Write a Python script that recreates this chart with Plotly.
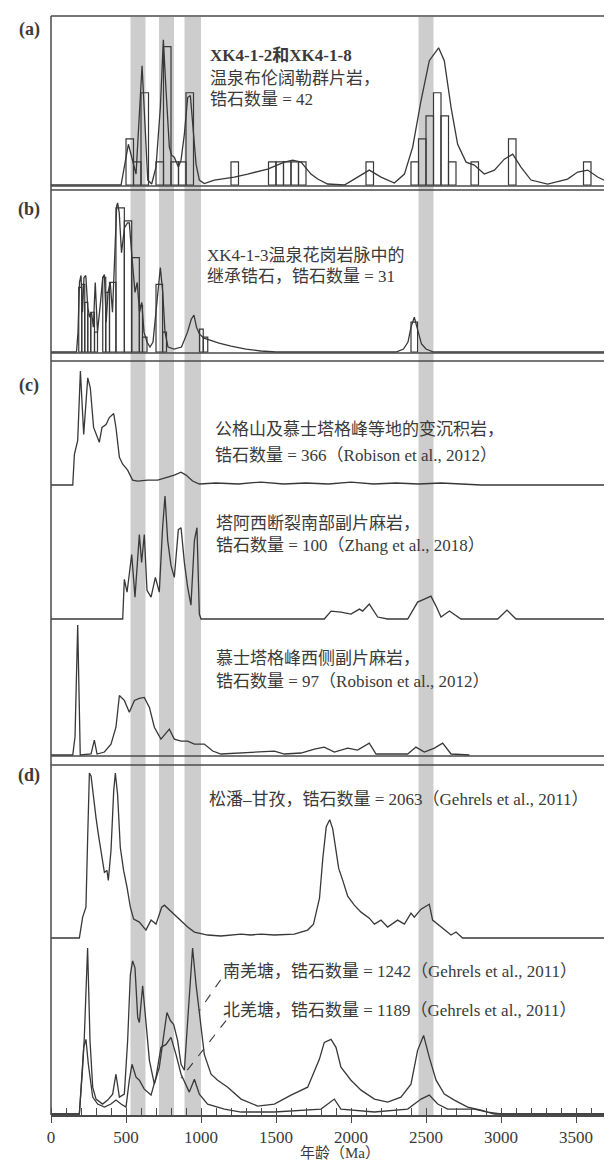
import plotly.graph_objects as go

# ---------------- data (ages in Ma, heights = relative probability as read) -------------
a_age = [0, 467, 516, 567, 607, 645, 671, 700, 729, 749, 767, 789, 804, 822, 849, 867, 889, 911, 929, 945, 967, 989,
         1022, 1089, 1222, 1311, 1444, 1556, 1611, 1667, 1733, 1778, 1844, 1956, 2044, 2122, 2200, 2289, 2356, 2411,
         2467, 2522, 2584, 2622, 2667, 2711, 2767, 2822, 2889, 2956, 3022, 3078, 3133, 3200, 3311, 3444, 3511, 3578,
         3644, 3733, 3800]
a_val = [0, 0, 41, 11, 120, 5, 1, 18, 78, 146, 95, 38, 30, 28, 18, 25, 51, 88, 90, 61, 21, 5,
         1.5, 5, 8, 11, 16, 23, 25, 23, 11, 6, 1, 0, 8, 15, 8, 2, 11, 38,
         85, 125, 138, 125, 78, 41, 23, 20, 11, 15, 26, 31, 18, 5, 1, 6, 13, 15,
         8, 1.5, 0]
a_bin = [500, 550, 600, 700, 750, 800, 850, 900, 1200, 1450, 1500, 1550, 1600, 1650, 2100, 2400, 2450, 2500, 2550,
         2600, 2650, 2800, 3050, 3550]
a_cnt = [2, 1, 4, 1, 6, 1, 1, 4, 1, 1, 1, 1, 1, 1, 1, 1, 2, 3, 4, 3, 1, 1, 2, 1]

b_age = [0, 170, 180, 190, 200, 210, 220, 232, 245, 258, 270, 282, 295, 310, 330, 345, 356, 368, 380, 395, 410, 425,
         438, 444, 455, 470, 490, 510, 522, 540, 560, 575, 590, 605, 620, 640, 660, 680, 700, 715, 729, 745, 760, 780,
         820, 870, 910, 935, 953, 970, 990, 1020, 1060, 1120, 1200, 1300, 1400, 1500, 2300, 2350, 2380, 2400, 2422,
         2445, 2470, 2500, 2550, 3800]
b_val = [0, 0, 20, 70, 77, 40, 75, 77, 45, 35, 40, 25, 70, 20, 50, 75, 78, 30, 60, 70, 40, 90,
         147, 150, 140, 100, 125, 130, 130, 95, 60, 70, 40, 50, 20, 10, 5, 10, 40, 70, 85, 60, 20, 5,
         3, 5, 20, 33, 37, 25, 18, 14, 12, 9, 6, 3, 1, 0, 0, 3, 10, 25, 35,
         22, 8, 3, 0, 0]
b_bar_lo = [185, 205, 225, 245, 265, 290, 345, 365, 390, 433, 489, 538, 589, 610, 700, 744, 990, 1015, 2400]
b_bar_hi = [205, 225, 245, 265, 290, 310, 365, 390, 433, 489, 538, 589, 610, 640, 744, 770, 1015, 1045, 2444]
b_bar_h = [65, 68, 50, 38, 40, 20, 75, 60, 70, 145, 132, 95, 47, 15, 68, 20, 23, 15, 30]

c1_age = [0, 145, 156, 178, 196, 218, 245, 262, 284, 307, 322, 340, 367, 389, 418, 433, 456, 478, 511, 544, 578, 644,
          711, 778, 822, 867, 900, 944, 989, 1100, 1250, 1400, 1550, 1700, 1850, 2000, 2150, 2300, 2450, 2600, 2750,
          2870, 3800]
c1_val = [0, 0, 31, 45, 115, 51, 108, 98, 58, 48, 43, 58, 61, 68, 72, 58, 28, 21, 15, 5, 4, 5,
          5, 8, 10, 13, 10, 4, 1, 2, 1, 3, 1, 2, 1, 3, 1, 2, 1, 2, 1,
          0, 0]

c2_age = [0, 478, 489, 507, 538, 560, 589, 604, 622, 640, 667, 696, 722, 744, 760, 778, 800, 822, 849, 867, 889, 911,
          933, 956, 973, 989, 1000, 1822, 1867, 1933, 2000, 2056, 2078, 2122, 2178, 2244, 2378, 2444, 2489, 2533, 2567,
          2600, 2656, 2733, 2978, 3040, 3100, 3800]
c2_val = [0, 0, 40, 27, 65, 22, 85, 57, 85, 29, 22, 42, 27, 92, 124, 79, 54, 42, 90, 92, 57, 32,
          14, 79, 92, 5, 0, 0, 8, 7, 5, 10, 8, 15, 2, 0, 0, 17, 20, 23, 13,
          2, 8, 0, 0, 9, 0, 0]

c3_age = [0, 145, 160, 178, 195, 267, 289, 307, 356, 400, 433, 456, 489, 522, 556, 589, 622, 656, 689, 733, 789, 822,
          867, 911, 956, 1022, 1078, 1133, 1489, 1556, 1667, 1756, 1822, 1889, 1978, 2044, 2122, 2167, 2378, 2433,
          2489, 2556, 2611, 2667, 2790]
c3_val = [0, 0, 18, 131, 0, 1, 15, 1, 3, 11, 28, 60, 55, 43, 55, 57, 58, 48, 28, 16, 26, 16,
          14, 14, 11, 11, 4, 1, 4, 1, 2, 6, 8, 3, 7, 5, 12, 1, 1, 8,
          3, 7, 12, 1, 0]

d1_age = [0, 189, 211, 233, 244, 256, 267, 284, 300, 316, 338, 356, 373, 382, 400, 418, 429, 444, 462, 484, 507, 529,
          551, 589, 633, 667, 700, 738, 756, 778, 822, 867, 911, 956, 1044, 1133, 1267, 1333, 1400, 1489, 1622, 1711,
          1750, 1790, 1812, 1835, 1858, 1878, 1898, 1918, 1945, 1978, 2022, 2067, 2122, 2156, 2200, 2244, 2311, 2356,
          2400, 2422, 2467, 2522, 2544, 2600, 2667, 2700, 2744, 3800]
d1_val = [0, 0, 21, 31, 98, 166, 163, 138, 121, 104, 84, 66, 68, 58, 88, 148, 166, 144, 91, 68, 51, 31,
          19, 16, 8, 18, 14, 31, 33, 30, 24, 18, 11, 6, 3, 2, 4, 3, 4, 3, 4, 8,
          14, 40, 80, 112, 119, 110, 90, 70, 58, 42, 33, 26, 20, 14, 18, 11, 18, 14,
          25, 21, 29, 34, 18, 11, 3, 6, 0, 0]

sq_age = [0, 189, 211, 222, 244, 260, 278, 300, 344, 378, 411, 433, 456, 489, 511, 529, 544, 560, 578, 589, 611, 627,
          656, 689, 722, 756, 773, 796, 818, 844, 867, 889, 911, 944, 967, 989, 1022, 1067, 1111, 1178, 1267, 1378,
          1489, 1600, 1711, 1789, 1822, 1867, 1900, 1933, 2000, 2067, 2156, 2244, 2333, 2400, 2444, 2484, 2522, 2567,
          2622, 2689, 2778, 2867, 2956, 3800]
sq_val = [0, 0, 47, 77, 167, 74, 27, 15, 10, 14, 20, 40, 17, 20, 74, 140, 154, 147, 97, 92, 129, 104,
          54, 30, 47, 84, 102, 94, 90, 74, 50, 44, 90, 167, 130, 104, 60, 40, 34, 27, 15, 8,
          10, 19, 27, 55, 72, 75, 67, 47, 34, 24, 15, 12, 17, 30, 64, 79, 57, 34,
          20, 14, 7, 4, 0, 0]

nq_age = [0, 189, 218, 233, 249, 278, 311, 356, 400, 433, 467, 500, 522, 540, 567, 589, 622, 667, 700, 733, 767, 800,
          833, 867, 922, 956, 989, 1044, 1156, 1267, 1489, 1711, 1800, 1889, 1933, 2156, 2378, 2467, 2522, 2578, 2644,
          2822, 2911, 3000, 3800]
nq_val = [0, 0, 67, 75, 50, 17, 10, 7, 10, 14, 10, 7, 34, 50, 37, 34, 25, 19, 37, 67, 70, 77,
          60, 40, 22, 35, 20, 10, 5, 2, 2, 4, 5, 15, 5, 2, 5, 15, 19, 10, 5,
          5, 2, 0, 0]

band_lo = [530, 720, 890, 2450]
band_hi = [630, 820, 1000, 2550]

tick_vals = [0, 500, 1000, 1500, 2000, 2500, 3000, 3500]
tick_text = ["0", "500", "1000", "1500", "2000", "2500", "3000", "3500"]

# ---------------- layout helpers (pixel -> paper) -------------
W, H = 612, 1162
L, T, B_PX = 43, 8, 1107
PW, PH = W - L, B_PX - T


def xp(px):
    return (px - L) / PW


def yp(py):
    return (B_PX - py) / PH


LINE = "#383838"
FRAME = "#4a4a4a"
TXT = "#3a3a3a"
FONT = "Liberation Serif, Noto Sans CJK SC, serif"

fig = go.Figure()

panels = {
    "y": (8, 178),     # a curve
    "y2": (182, 345),  # b
    "y3": (353, 478),  # c1
    "y4": (478, 612),  # c2
    "y5": (612, 748),  # c3
    "y6": (757, 931),  # d1
    "y7": (931, 1107),  # d2
    "y8": (8, 178),    # a histogram counts
}


def tr(x, y, ax):
    fig.add_trace(go.Scatter(x=x, y=y, mode="lines", yaxis=ax, hoverinfo="skip",
                             line=dict(color=LINE, width=1.3), showlegend=False))


fig.add_trace(go.Bar(x=[b + 25 for b in a_bin], y=a_cnt, width=[50] * len(a_bin), yaxis="y8",
                     marker=dict(color="rgba(0,0,0,0)", line=dict(color=LINE, width=1.2)), showlegend=False))
fig.add_trace(go.Bar(x=[(lo + hi) / 2 for lo, hi in zip(b_bar_lo, b_bar_hi)], y=b_bar_h,
                     width=[hi - lo for lo, hi in zip(b_bar_lo, b_bar_hi)], yaxis="y2",
                     marker=dict(color="rgba(0,0,0,0)", line=dict(color=LINE, width=1.2)), showlegend=False))

tr(a_age, a_val, "y")
tr(b_age, b_val, "y2")
tr(c1_age, c1_val, "y3")
tr(c2_age, c2_val, "y4")
tr(c3_age, c3_val, "y5")
tr(d1_age, d1_val, "y6")
tr(sq_age, sq_val, "y7")
tr(nq_age, nq_val, "y7")

lay = dict(
    width=W, height=H, margin=dict(l=L, r=0, t=T, b=H - B_PX),
    paper_bgcolor="white", plot_bgcolor="rgba(0,0,0,0)",
    barmode="overlay", showlegend=False,
    font=dict(family=FONT, color=TXT, size=17),
    xaxis=dict(range=[0, PW / 0.15], domain=[0, 1], anchor="y7", showgrid=False, zeroline=False,
               showline=True, linecolor=FRAME, linewidth=1.5,
               tickvals=tick_vals, ticktext=tick_text, ticks="outside", ticklen=6, tickcolor=FRAME,
               tickwidth=1.2, tickfont=dict(size=17, family=FONT, color=TXT),
               minor=dict(dtick=100, ticks="inside", ticklen=7, tickcolor=FRAME, tickwidth=1)),
)
heights = {"y": 170, "y2": 163, "y3": 125, "y4": 134, "y5": 136, "y6": 174, "y7": 176, "y8": 170 / 23.2}
for k, (top, bot) in panels.items():
    name = "yaxis" if k == "y" else "yaxis" + k[1:]
    hh = heights[k]
    off = hh * 1.0 / (bot - top)
    d = dict(domain=[yp(bot), yp(top)], range=[-off, hh], visible=False, fixedrange=True)
    if k != "y7":
        d["anchor"] = "x"
    lay[name] = d
fig.update_layout(**lay)

shapes = []
for lo, hi in zip(band_lo, band_hi):
    shapes.append(dict(type="rect", xref="x", yref="paper", x0=lo, x1=hi, y0=0, y1=yp(9),
                       fillcolor="#cdcdcd", line=dict(width=0), layer="below"))
for py in [8, 178, 182, 345, 353, 748, 757]:
    shapes.append(dict(type="line", xref="paper", yref="paper", x0=0, x1=1, y0=yp(py), y1=yp(py),
                       line=dict(color=FRAME, width=1.5)))
shapes.append(dict(type="line", xref="paper", yref="paper", x0=0, x1=0, y0=0, y1=yp(8),
                   line=dict(color=FRAME, width=1.5)))
shapes.append(dict(type="line", xref="x", yref="y7", x0=1131, y0=135, x1=989, y1=104,
                   line=dict(color=LINE, width=1.1, dash="dash")))
shapes.append(dict(type="line", xref="x", yref="y7", x0=1167, y0=94, x1=867, y1=36,
                   line=dict(color=LINE, width=1.1, dash="dash")))
fig.update_layout(shapes=shapes)

ann = []


def text(px, py, s, size=17, bold=False, anchor="left"):
    if bold:
        s = "<b>" + s + "</b>"
    ann.append(dict(xref="paper", yref="paper", x=xp(px), y=yp(py), text=s, showarrow=False,
                    xanchor=anchor, yanchor="middle", font=dict(size=size, family=FONT, color=TXT)))


for lab, py in [("(a)", 22), ("(b)", 202), ("(c)", 377), ("(d)", 767)]:
    ann.append(dict(xref="paper", yref="paper", x=xp(21), y=yp(py), text="<b>" + lab + "</b>", showarrow=False,
                    xanchor="center", yanchor="middle", font=dict(size=18, family=FONT, color=TXT)))

text(200, 47, "XK4-1-2和XK4-1-8", bold=True)
text(200, 70, "温泉布伦阔勒群片岩，")
text(200, 91, "锆石数量 = 42")
text(197, 248, "XK4-1-3温泉花岗岩脉中的")
text(197, 268, "继承锆石，锆石数量 = 31")
text(205, 421, "公格山及慕士塔格峰等地的变沉积岩，")
text(205, 447, "锆石数量 = 366（Robison et al., 2012）")
text(206, 515, "塔阿西断裂南部副片麻岩，")
text(206, 537, "锆石数量 = 100（Zhang et al., 2018）")
text(206, 650, "慕士塔格峰西侧副片麻岩，")
text(206, 673, "锆石数量 = 97（Robison et al., 2012）")
text(199, 791, "松潘–甘孜，锆石数量 = 2063（Gehrels et al., 2011）")
text(213, 963, "南羌塘，锆石数量 = 1242（Gehrels et al., 2011）")
text(213, 1002, "北羌塘，锆石数量 = 1189（Gehrels et al., 2011）")
# x-axis title
ann.append(dict(xref="paper", yref="paper", x=xp(332), y=yp(1145), text="年龄（Ma）", showarrow=False,
                xanchor="center", yanchor="middle", font=dict(size=15, family=FONT, color=TXT)))
fig.update_layout(annotations=ann)

fig.write_html("out.html")
